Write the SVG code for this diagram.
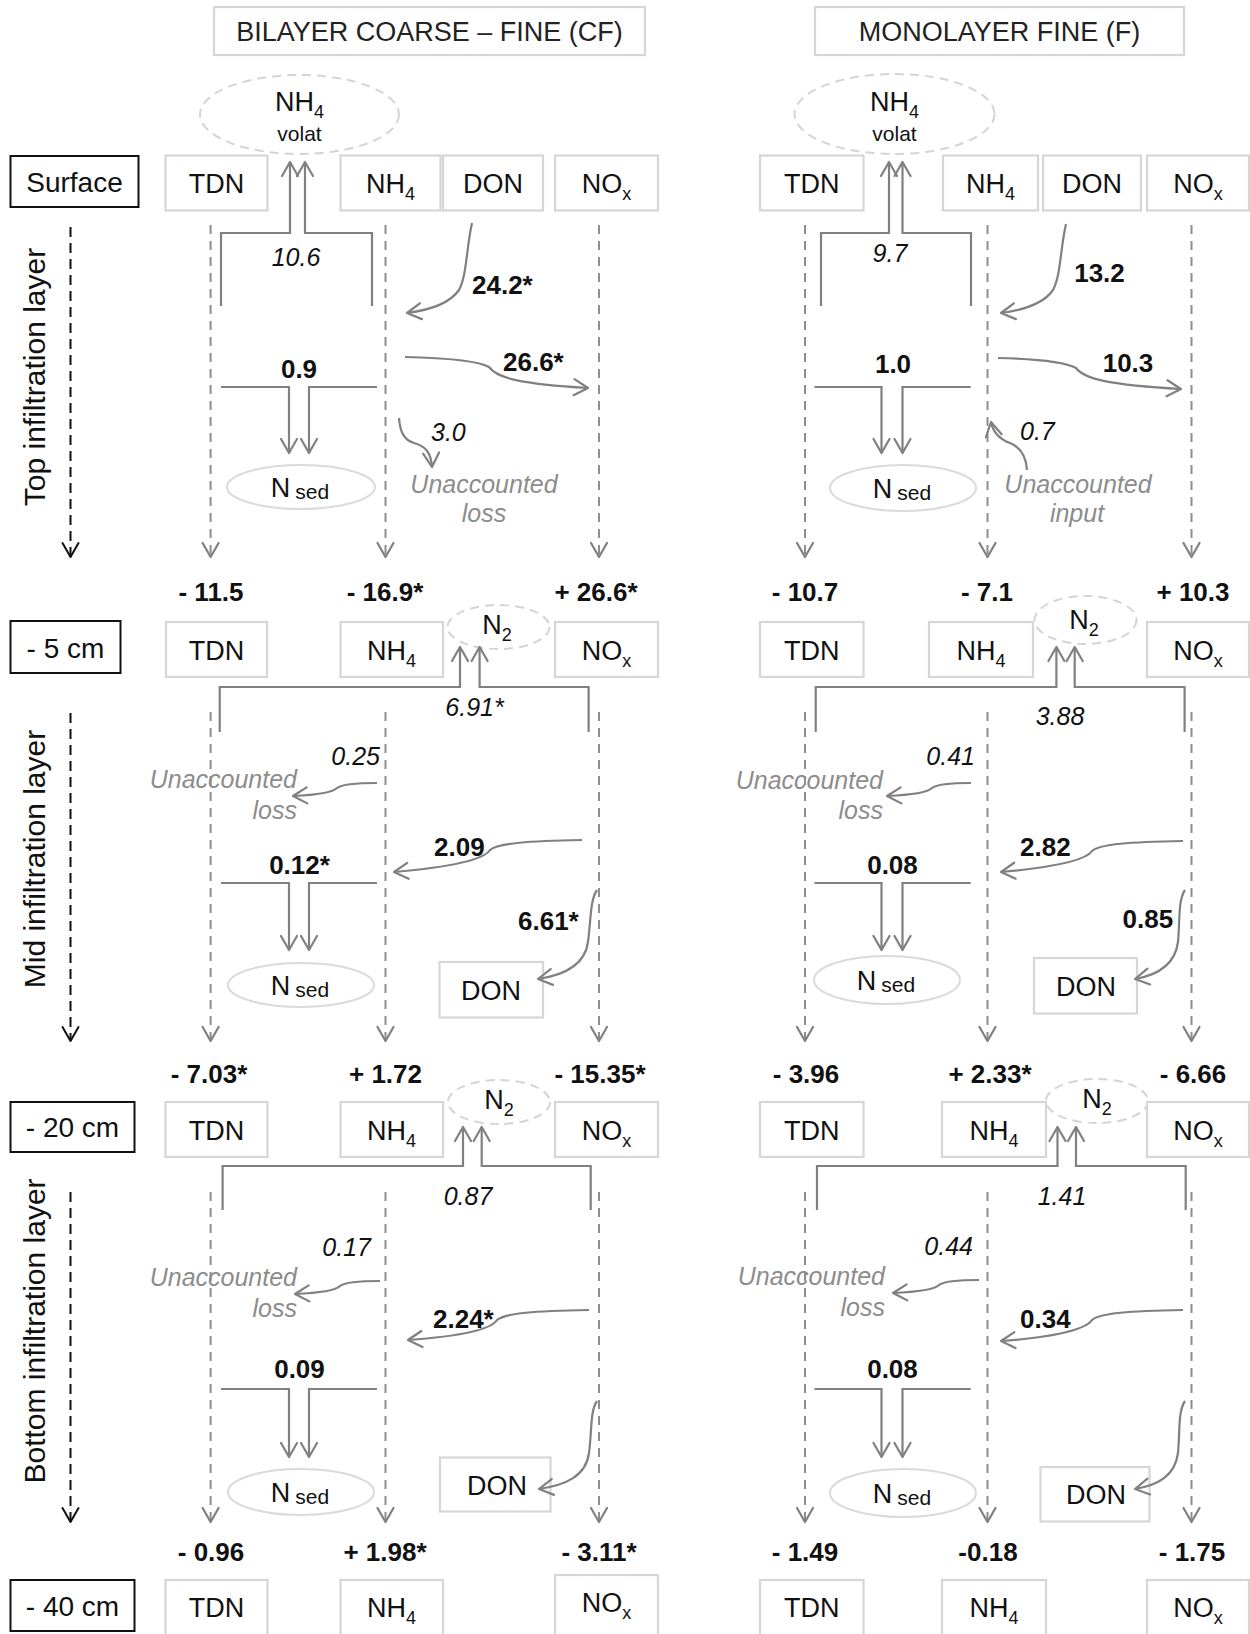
<svg xmlns="http://www.w3.org/2000/svg" width="1250" height="1634" viewBox="0 0 1250 1634">
<style>
text{font-family:"Liberation Sans",Arial,sans-serif;fill:#111}
.title{font-size:27px;fill:#222;text-anchor:middle}
.lvl{font-size:28px;text-anchor:middle}
.lab{font-size:27px;text-anchor:middle}
.sub{font-size:18px}
.sed{font-size:21px}
.vol{font-size:21px}
.layer{font-size:30px;text-anchor:middle}
.val{font-size:26px;font-weight:bold;text-anchor:middle}
.bn{font-size:26px;font-weight:bold}
.it{font-size:25px;font-style:italic}
.un{font-size:25px;font-style:italic;fill:#8c8c8c}
.box{fill:#fff;stroke:#d6d6d6;stroke-width:2.2}
.bbox{fill:#fff;stroke:#111;stroke-width:2}
.ell{fill:none;stroke:#dadada;stroke-width:2}
.dell{fill:none;stroke:#d4d4d4;stroke-width:2;stroke-dasharray:9 6}
.col{fill:none;stroke:#8e8e8e;stroke-width:2;stroke-dasharray:9 7;marker-end:url(#ag)}
.lay{fill:none;stroke:#111;stroke-width:2;stroke-dasharray:10 6;marker-end:url(#ab)}
.br{fill:none;stroke:#808080;stroke-width:2.2;stroke-linejoin:miter;marker-end:url(#ag)}
.cv{fill:none;stroke:#808080;stroke-width:2.2;marker-end:url(#ag)}
</style>
<defs>
<marker id="ag" viewBox="-16 -10 18 20" refX="0" refY="0" markerWidth="18" markerHeight="20" markerUnits="userSpaceOnUse" orient="auto">
<path d="M-14,-8 L0,0 L-14,8" fill="none" stroke="#808080" stroke-width="2.2" stroke-linejoin="round" stroke-linecap="round"/>
</marker>
<marker id="ab" viewBox="-16 -10 18 20" refX="0" refY="0" markerWidth="18" markerHeight="20" markerUnits="userSpaceOnUse" orient="auto">
<path d="M-14,-8 L0,0 L-14,8" fill="none" stroke="#111" stroke-width="2" stroke-linejoin="round" stroke-linecap="round"/>
</marker>
</defs>
<rect width="1250" height="1634" fill="#fff"/>

<!-- headers -->
<g id="hdr-cf"><rect class="box" x="214" y="7" width="431" height="48"/><text class="title" x="429.5" y="41">BILAYER COARSE – FINE (CF)</text></g>
<g id="hdr-f"><rect class="box" x="815" y="7" width="369" height="48"/><text class="title" x="999.5" y="41">MONOLAYER FINE (F)</text></g>

<!-- level labels -->
<g id="lvl-surface"><rect class="bbox" x="10.5" y="156" width="128" height="51"/><text class="lvl" x="74.5" y="192">Surface</text></g>
<g id="lvl-5"><rect class="bbox" x="10.5" y="621" width="110" height="52"/><text class="lvl" x="65.5" y="658">- 5 cm</text></g>
<g id="lvl-20"><rect class="bbox" x="10.5" y="1102" width="124" height="50"/><text class="lvl" x="72.5" y="1137">- 20 cm</text></g>
<g id="lvl-40"><rect class="bbox" x="10.5" y="1580" width="124" height="51"/><text class="lvl" x="72.5" y="1616">- 40 cm</text></g>

<!-- layer titles -->
<g id="layer-top"><text class="layer" transform="translate(45,377) rotate(-90)">Top infiltration layer</text></g>
<g id="layer-mid"><text class="layer" transform="translate(45,859) rotate(-90)">Mid infiltration layer</text></g>
<g id="layer-bot"><text class="layer" transform="translate(45,1331) rotate(-90)">Bottom infiltration layer</text></g>

<!-- Surface row left -->
<g id="cf-s-tdn"><rect class="box" x="165.5" y="155.5" width="102" height="55"/><text class="lab" x="216.5" y="193">TDN</text></g>
<g id="cf-s-nh4"><rect class="box" x="340.5" y="155.5" width="100" height="55"/><text class="lab" x="390.5" y="193">NH<tspan class="sub" dy="7">4</tspan></text></g>
<g id="cf-s-don"><rect class="box" x="443" y="155.5" width="100" height="55"/><text class="lab" x="493" y="193">DON</text></g>
<g id="cf-s-nox"><rect class="box" x="555" y="155.5" width="103" height="55"/><text class="lab" x="606.5" y="193">NO<tspan class="sub" dy="7">x</tspan></text></g>
<g id="cf-volat"><ellipse class="dell" cx="299.5" cy="114.5" rx="99.5" ry="39.5"/><text class="lab" x="299.5" y="111">NH<tspan class="sub" dy="7">4</tspan></text><text class="vol" x="299.5" y="141" text-anchor="middle">volat</text></g>

<!-- Surface row right -->
<g id="f-s-tdn"><rect class="box" x="760" y="155.5" width="103.5" height="55"/><text class="lab" x="811.7" y="193">TDN</text></g>
<g id="f-s-nh4"><rect class="box" x="943" y="155.5" width="95" height="55"/><text class="lab" x="990.5" y="193">NH<tspan class="sub" dy="7">4</tspan></text></g>
<g id="f-s-don"><rect class="box" x="1043" y="155.5" width="98" height="55"/><text class="lab" x="1092" y="193">DON</text></g>
<g id="f-s-nox"><rect class="box" x="1147" y="155.5" width="102" height="55"/><text class="lab" x="1198" y="193">NO<tspan class="sub" dy="7">x</tspan></text></g>
<g id="f-volat"><ellipse class="dell" cx="894.5" cy="114" rx="100" ry="40"/><text class="lab" x="894.5" y="111">NH<tspan class="sub" dy="7">4</tspan></text><text class="vol" x="894.5" y="141" text-anchor="middle">volat</text></g>

<!-- -5 cm row -->
<g id="cf-5-tdn"><rect class="box" x="166" y="622" width="101" height="55"/><text class="lab" x="216.5" y="660">TDN</text></g>
<g id="cf-5-nh4"><rect class="box" x="340.5" y="622" width="102.5" height="55"/><text class="lab" x="391.5" y="660">NH<tspan class="sub" dy="7">4</tspan></text></g>
<g id="cf-5-n2"><ellipse class="dell" cx="498.5" cy="627" rx="51" ry="22"/><text class="lab" x="497" y="634">N<tspan class="sub" dy="7">2</tspan></text></g>
<g id="cf-5-nox"><rect class="box" x="555" y="622" width="103" height="55"/><text class="lab" x="606.5" y="660">NO<tspan class="sub" dy="7">x</tspan></text></g>
<g id="f-5-tdn"><rect class="box" x="760" y="622" width="103.5" height="55"/><text class="lab" x="811.7" y="660">TDN</text></g>
<g id="f-5-nh4"><rect class="box" x="929" y="622" width="104" height="55"/><text class="lab" x="981" y="660">NH<tspan class="sub" dy="7">4</tspan></text></g>
<g id="f-5-n2"><ellipse class="dell" cx="1085.5" cy="620" rx="51" ry="24"/><text class="lab" x="1084" y="629">N<tspan class="sub" dy="7">2</tspan></text></g>
<g id="f-5-nox"><rect class="box" x="1147" y="622" width="102" height="55"/><text class="lab" x="1198" y="660">NO<tspan class="sub" dy="7">x</tspan></text></g>

<!-- -20 cm row -->
<g id="cf-20-tdn"><rect class="box" x="165.5" y="1102" width="102" height="55"/><text class="lab" x="216.5" y="1140">TDN</text></g>
<g id="cf-20-nh4"><rect class="box" x="340.5" y="1102" width="102.5" height="55"/><text class="lab" x="391.5" y="1140">NH<tspan class="sub" dy="7">4</tspan></text></g>
<g id="cf-20-n2"><ellipse class="dell" cx="499" cy="1102" rx="51" ry="22"/><text class="lab" x="499" y="1109">N<tspan class="sub" dy="7">2</tspan></text></g>
<g id="cf-20-nox"><rect class="box" x="555" y="1102" width="103" height="55"/><text class="lab" x="606.5" y="1140">NO<tspan class="sub" dy="7">x</tspan></text></g>
<g id="f-20-tdn"><rect class="box" x="760" y="1102" width="103.5" height="55"/><text class="lab" x="811.7" y="1140">TDN</text></g>
<g id="f-20-nh4"><rect class="box" x="942" y="1102" width="104" height="55"/><text class="lab" x="994" y="1140">NH<tspan class="sub" dy="7">4</tspan></text></g>
<g id="f-20-n2"><ellipse class="dell" cx="1097" cy="1101" rx="51" ry="22"/><text class="lab" x="1097" y="1108">N<tspan class="sub" dy="7">2</tspan></text></g>
<g id="f-20-nox"><rect class="box" x="1147" y="1102" width="102" height="55"/><text class="lab" x="1198" y="1140">NO<tspan class="sub" dy="7">x</tspan></text></g>

<!-- -40 cm row -->
<g id="cf-40-tdn"><rect class="box" x="165.5" y="1580" width="102" height="60"/><text class="lab" x="216.5" y="1617">TDN</text></g>
<g id="cf-40-nh4"><rect class="box" x="340.5" y="1580" width="102.5" height="60"/><text class="lab" x="391.5" y="1617">NH<tspan class="sub" dy="7">4</tspan></text></g>
<g id="cf-40-nox"><rect class="box" x="555" y="1575" width="103" height="65"/><text class="lab" x="606.5" y="1612">NO<tspan class="sub" dy="7">x</tspan></text></g>
<g id="f-40-tdn"><rect class="box" x="760" y="1580" width="103.5" height="60"/><text class="lab" x="811.7" y="1617">TDN</text></g>
<g id="f-40-nh4"><rect class="box" x="942" y="1580" width="104" height="60"/><text class="lab" x="994" y="1617">NH<tspan class="sub" dy="7">4</tspan></text></g>
<g id="f-40-nox"><rect class="box" x="1147" y="1580" width="102" height="60"/><text class="lab" x="1198" y="1617">NO<tspan class="sub" dy="7">x</tspan></text></g>

<!-- N sed ellipses and DON boxes -->
<g id="cf-sed1"><ellipse class="ell" cx="301" cy="487" rx="74" ry="22"/><text class="lab" x="300" y="497">N<tspan class="sed" dx="5" dy="2">sed</tspan></text></g>
<g id="f-sed1"><ellipse class="ell" cx="903" cy="488" rx="73" ry="23"/><text class="lab" x="902" y="498">N<tspan class="sed" dx="5" dy="2">sed</tspan></text></g>
<g id="cf-sed2"><ellipse class="ell" cx="301" cy="985" rx="73" ry="22"/><text class="lab" x="300" y="995">N<tspan class="sed" dx="5" dy="2">sed</tspan></text></g>
<g id="f-sed2"><ellipse class="ell" cx="887" cy="980" rx="73" ry="24"/><text class="lab" x="886" y="990">N<tspan class="sed" dx="5" dy="2">sed</tspan></text></g>
<g id="cf-sed3"><ellipse class="ell" cx="301" cy="1492" rx="73" ry="23"/><text class="lab" x="300" y="1502">N<tspan class="sed" dx="5" dy="2">sed</tspan></text></g>
<g id="f-sed3"><ellipse class="ell" cx="903" cy="1493" rx="73" ry="24"/><text class="lab" x="902" y="1503">N<tspan class="sed" dx="5" dy="2">sed</tspan></text></g>
<g id="cf-don2"><rect class="box" x="439.5" y="962" width="103.5" height="55.5"/><text class="lab" x="491" y="1000">DON</text></g>
<g id="f-don2"><rect class="box" x="1034" y="958" width="103" height="55.5"/><text class="lab" x="1086" y="996">DON</text></g>
<g id="cf-don3"><rect class="box" x="440" y="1457.5" width="110.5" height="54"/><text class="lab" x="497" y="1495">DON</text></g>
<g id="f-don3"><rect class="box" x="1040.5" y="1467" width="109" height="54.5"/><text class="lab" x="1096" y="1504">DON</text></g>

<!-- connectors -->
<g id="connectors">
<path class="col" d="M210.6,225 V557"/><path class="col" d="M385.5,225 V557"/><path class="col" d="M599,225 V557"/>
<path class="col" d="M805,225 V557"/><path class="col" d="M987.5,225 V557"/><path class="col" d="M1191.5,225 V557"/>
<path class="col" d="M210.6,712 V1041"/><path class="col" d="M385.5,712 V1041"/><path class="col" d="M599,712 V1041"/>
<path class="col" d="M805,712 V1041"/><path class="col" d="M987.5,712 V1041"/><path class="col" d="M1191.5,712 V1041"/>
<path class="col" d="M210.6,1192 V1522"/><path class="col" d="M385.5,1192 V1522"/><path class="col" d="M599,1192 V1522"/>
<path class="col" d="M805,1192 V1522"/><path class="col" d="M987.5,1192 V1522"/><path class="col" d="M1191.5,1192 V1522"/>
<path class="lay" d="M70.5,227 V557"/>
<path class="lay" d="M70.5,713 V1041"/>
<path class="lay" d="M70.5,1192 V1522"/>
<path class="br" d="M221,306 V233 H290 V162"/>
<path class="br" d="M372,306 V233 H305 V162"/>
<path class="br" d="M221,387 H289 V453"/>
<path class="br" d="M377,387 H309 V453"/>
<path class="br" d="M821,306 V233 H889 V162"/>
<path class="br" d="M971,306 V233 H902.5 V162"/>
<path class="br" d="M814.5,387 H881.5 V453"/>
<path class="br" d="M970.7,387 H902.5 V453"/>
<path class="br" d="M219.7,732 V687 H460 V647"/>
<path class="br" d="M588.6,732 V687 H479.6 V647"/>
<path class="br" d="M221,883 H289 V950"/>
<path class="br" d="M377,883 H309 V950"/>
<path class="br" d="M815.7,732 V687 H1056.4 V647"/>
<path class="br" d="M1184.6,732 V687 H1074.7 V647"/>
<path class="br" d="M814.5,883 H881.5 V950"/>
<path class="br" d="M970.7,883 H902.5 V950"/>
<path class="br" d="M222.6,1210 V1166 H463 V1127"/>
<path class="br" d="M590.7,1210 V1166 H481.7 V1127"/>
<path class="br" d="M221,1389 H289 V1457"/>
<path class="br" d="M377,1389 H309 V1457"/>
<path class="br" d="M817,1210 V1166 H1057.5 V1127"/>
<path class="br" d="M1185.7,1210 V1166 H1076 V1127"/>
<path class="br" d="M814.5,1389 H881.5 V1457"/>
<path class="br" d="M970.7,1389 H902.5 V1457"/>
<path class="cv" d="M472,223 C466,250 467,275 459,290 C450,303 430,310 407,313"/>
<path class="cv" d="M405,357 C450,358 478,361 489,367 C497,378 520,384 588,388"/>
<path class="cv" d="M399,418 C400,432 404,440 414,443 C425,446 431,452 432,467"/>
<path class="cv" d="M1066,224 C1060,250 1061,275 1053,290 C1044,303 1024,310 1001,313"/>
<path class="cv" d="M998,358 C1040,359 1065,362 1076,368 C1084,379 1110,385 1181,389"/>
<path class="cv" d="M1027,470 C1026,455 1020,447 1010,443 C999,439 993,432 991,422"/>
<path class="cv" d="M377,783 C355,783 342,784 337,788 C332,793 315,795 293,796"/>
<path class="cv" d="M582,840 C530,841 498,843 490,850 C483,861 440,868 394,872"/>
<path class="cv" d="M597,890 C590,900 591,920 588,942 C585,965 565,975 538,979"/>
<path class="cv" d="M971,783 C950,783 937,784 932,788 C927,793 910,795 887,796"/>
<path class="cv" d="M1183,841 C1130,842 1100,844 1092,851 C1085,862 1045,868 1001,872"/>
<path class="cv" d="M1185,890 C1178,900 1180,920 1178,942 C1175,965 1158,975 1135,979"/>
<path class="cv" d="M380,1281 C358,1281 345,1282 340,1286 C335,1291 318,1293 295,1294"/>
<path class="cv" d="M589,1310 C535,1311 505,1313 497,1320 C490,1331 450,1337 408,1340"/>
<path class="cv" d="M597,1401 C590,1411 592,1431 589,1453 C586,1476 566,1485 539,1489"/>
<path class="cv" d="M979,1280 C957,1280 944,1281 939,1285 C934,1290 916,1292 893,1293"/>
<path class="cv" d="M1183,1310 C1130,1311 1100,1313 1092,1320 C1085,1331 1045,1338 1001,1341"/>
<path class="cv" d="M1185,1401 C1178,1411 1180,1431 1178,1453 C1175,1476 1158,1485 1135,1489"/>
</g>

<!-- flux labels -->
<g id="labels">
<text class="it" x="296" y="266" text-anchor="middle">10.6</text>
<text class="bn" x="299" y="378" text-anchor="middle">0.9</text>
<text class="bn" x="472" y="294">24.2*</text>
<text class="bn" x="503" y="371">26.6*</text>
<text class="it" x="431" y="441">3.0</text>
<text class="un" x="484" y="493" text-anchor="middle">Unaccounted</text>
<text class="un" x="484" y="522" text-anchor="middle">loss</text>

<text class="it" x="890" y="262" text-anchor="middle">9.7</text>
<text class="bn" x="893" y="373" text-anchor="middle">1.0</text>
<text class="bn" x="1099.5" y="282" text-anchor="middle">13.2</text>
<text class="bn" x="1128" y="372" text-anchor="middle">10.3</text>
<text class="it" x="1020" y="440">0.7</text>
<text class="un" x="1078" y="493" text-anchor="middle">Unaccounted</text>
<text class="un" x="1077" y="522" text-anchor="middle">input</text>

<text class="val" x="211" y="601">- 11.5</text>
<text class="val" x="385" y="601">- 16.9*</text>
<text class="val" x="596" y="601">+ 26.6*</text>
<text class="val" x="805" y="601">- 10.7</text>
<text class="val" x="987" y="601">- 7.1</text>
<text class="val" x="1193" y="601">+ 10.3</text>

<text class="it" x="474.5" y="716" text-anchor="middle">6.91*</text>
<text class="it" x="380" y="765" text-anchor="end">0.25</text>
<text class="un" x="297" y="788" text-anchor="end">Unaccounted</text>
<text class="un" x="297" y="819" text-anchor="end">loss</text>
<text class="bn" x="434" y="856">2.09</text>
<text class="bn" x="299.5" y="874" text-anchor="middle">0.12*</text>
<text class="bn" x="518" y="930">6.61*</text>

<text class="it" x="1060" y="725" text-anchor="middle">3.88</text>
<text class="it" x="975" y="765" text-anchor="end">0.41</text>
<text class="un" x="883" y="789" text-anchor="end">Unaccounted</text>
<text class="un" x="883" y="819" text-anchor="end">loss</text>
<text class="bn" x="1020" y="856">2.82</text>
<text class="bn" x="892.5" y="874" text-anchor="middle">0.08</text>
<text class="bn" x="1122.5" y="928">0.85</text>

<text class="val" x="209" y="1083">- 7.03*</text>
<text class="val" x="385.5" y="1083">+ 1.72</text>
<text class="val" x="600" y="1083">- 15.35*</text>
<text class="val" x="806" y="1083">- 3.96</text>
<text class="val" x="990" y="1083">+ 2.33*</text>
<text class="val" x="1193" y="1083">- 6.66</text>

<text class="it" x="468" y="1205" text-anchor="middle">0.87</text>
<text class="it" x="371" y="1256" text-anchor="end">0.17</text>
<text class="un" x="297" y="1286" text-anchor="end">Unaccounted</text>
<text class="un" x="297" y="1317" text-anchor="end">loss</text>
<text class="bn" x="433" y="1328">2.24*</text>
<text class="bn" x="299.5" y="1378" text-anchor="middle">0.09</text>

<text class="it" x="1062" y="1205" text-anchor="middle">1.41</text>
<text class="it" x="973" y="1255" text-anchor="end">0.44</text>
<text class="un" x="885" y="1285" text-anchor="end">Unaccounted</text>
<text class="un" x="885" y="1316" text-anchor="end">loss</text>
<text class="bn" x="1020" y="1328">0.34</text>
<text class="bn" x="892.5" y="1378" text-anchor="middle">0.08</text>

<text class="val" x="211" y="1561">- 0.96</text>
<text class="val" x="385" y="1561">+ 1.98*</text>
<text class="val" x="599" y="1561">- 3.11*</text>
<text class="val" x="805" y="1561">- 1.49</text>
<text class="val" x="988" y="1561">-0.18</text>
<text class="val" x="1192" y="1561">- 1.75</text>
</g>
</svg>
